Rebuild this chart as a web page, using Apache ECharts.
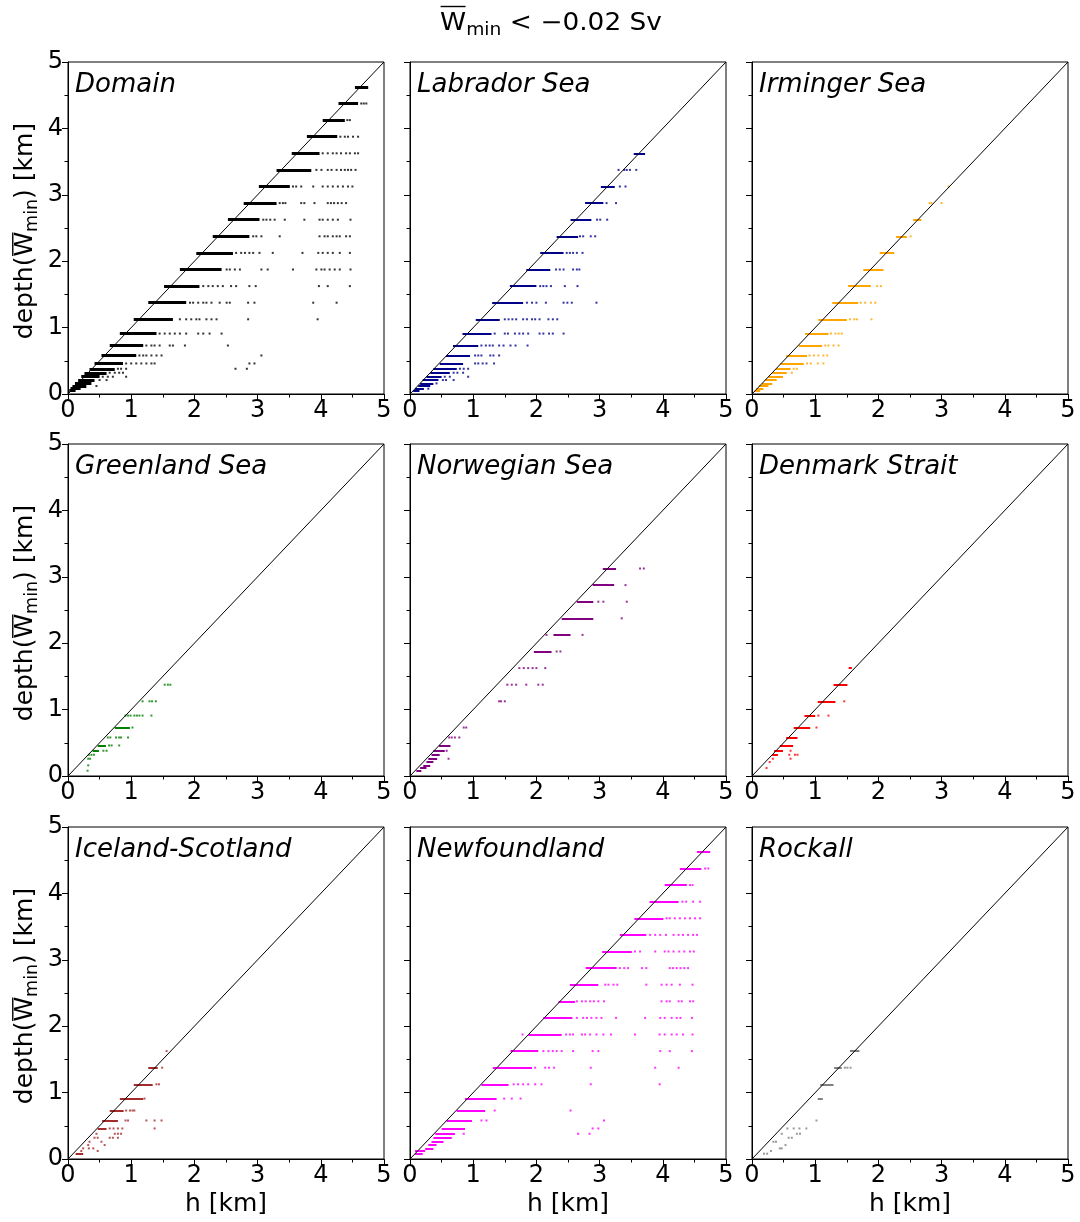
<!DOCTYPE html>
<html>
<head>
<meta charset="utf-8">
<script src="https://cdn.jsdelivr.net/npm/echarts@6/dist/echarts.min.js"></script>
<style>
html, body { margin: 0; padding: 0; background: #fff; }
#chart { width: 1080px; height: 1222px; }
</style>
</head>
<body>
<div id="chart"></div>
<script>
// axis ticks (km)
const tickValues = [0, 1, 2, 3, 4, 5]
const diagonal = [[0, 0], [5, 5]]

const panelNames = ['Domain', 'Labrador Sea', 'Irminger Sea', 'Greenland Sea', 'Norwegian Sea',
  'Denmark Strait', 'Iceland-Scotland', 'Newfoundland', 'Rockall']
const panelColors = ['#000000', '#00008b', '#ffa500', '#008000', '#800080',
  '#ff0000', '#a52a2a', '#ff00ff', '#808080']

// dense runs: [depth, h from, h to]
// isolated points: [depth, [h, h, ...]]
const domainRuns = [[4.625, 4.54, 4.75], [4.375, 4.28, 4.59], [4.125, 4.03, 4.38], [3.875, 3.78, 4.26],
  [3.625, 3.54, 3.98], [3.375, 3.30, 3.85], [3.125, 3.02, 3.51], [2.875, 2.78, 3.30], [2.625, 2.53, 3.03],
  [2.375, 2.29, 2.87], [2.125, 2.03, 2.61], [1.875, 1.77, 2.43], [1.625, 1.52, 2.08], [1.375, 1.27, 1.87],
  [1.125, 1.04, 1.66], [0.91, 0.82, 1.40], [0.73, 0.66, 1.19], [0.58, 0.53, 1.08], [0.46, 0.42, 0.87],
  [0.38, 0.34, 0.74], [0.32, 0.26, 0.61], [0.26, 0.21, 0.50], [0.21, 0.16, 0.42], [0.16, 0.11, 0.37],
  [0.12, 0.07, 0.29], [0.08, 0.04, 0.20], [0.05, 0.02, 0.12]]
const domainDots = [
  [4.375, [4.64, 4.68, 4.72]],
  [4.125, [4.42, 4.46]],
  [3.875, [4.31, 4.38, 4.43, 4.51, 4.59]],
  [3.625, [4.03, 4.11, 4.19, 4.25, 4.32, 4.40, 4.46, 4.54, 4.59]],
  [3.375, [3.93, 4.01, 4.11, 4.17, 4.25, 4.32, 4.38, 4.43, 4.48, 4.55]],
  [3.125, [3.56, 3.61, 3.69, 3.88, 4.03, 4.11, 4.19, 4.27, 4.35, 4.43, 4.50]],
  [2.875, [3.35, 3.40, 3.44, 3.69, 3.74, 3.90, 4.11, 4.16, 4.21, 4.27, 4.33, 4.40]],
  [2.625, [3.09, 3.14, 3.20, 3.27, 3.43, 3.74, 3.98, 4.03, 4.11, 4.19, 4.27, 4.47]],
  [2.375, [2.93, 2.98, 3.06, 3.35, 3.98, 4.06, 4.11, 4.19, 4.25, 4.30, 4.40, 4.46]],
  [2.125, [2.66, 2.74, 2.80, 2.87, 2.93, 3.03, 3.24, 3.71, 3.96, 4.03, 4.11, 4.19, 4.30, 4.46]],
  [1.875, [2.51, 2.56, 2.64, 2.72, 3.06, 3.16, 3.56, 3.93, 4.01, 4.06, 4.14, 4.22, 4.30, 4.47]],
  [1.625, [2.14, 2.22, 2.29, 2.37, 2.45, 2.58, 2.66, 2.87, 2.97, 3.97, 4.11, 4.46]],
  [1.375, [1.93, 1.98, 2.06, 2.14, 2.19, 2.27, 2.40, 2.51, 2.56, 2.85, 2.95, 3.88, 4.25]],
  [1.125, [1.77, 1.87, 1.95, 2.03, 2.08, 2.19, 2.27, 2.35, 2.85, 3.95]],
  [0.91, [1.45, 1.53, 1.61, 1.69, 1.77, 1.87, 2.06, 2.14, 2.24, 2.43]],
  [0.73, [1.24, 1.32, 1.37, 1.45, 1.61, 1.66, 1.85, 2.53]],
  [0.58, [1.13, 1.19, 1.24, 1.32, 1.40, 1.48, 3.06]],
  [0.46, [0.92, 1.00, 1.08, 1.16, 1.24, 1.32, 1.37, 2.87, 2.95]],
  [0.38, [0.79, 0.84, 0.92, 2.65, 2.83]],
  [0.32, [0.66, 0.74, 0.81, 0.87]],
  [0.26, [0.55, 0.63, 0.71, 0.92]],
  [0.21, [0.50, 0.61]],
  [0.12, [0.45]]]

const labradorRuns = [[3.625, 3.54, 3.72], [3.125, 3.02, 3.24], [2.875, 2.77, 3.06], [2.625, 2.54, 2.87],
  [2.375, 2.32, 2.66], [2.125, 2.06, 2.43], [1.875, 1.84, 2.22], [1.625, 1.58, 2.00], [1.375, 1.30, 1.79],
  [1.125, 1.04, 1.42], [0.91, 0.83, 1.29], [0.73, 0.68, 1.08], [0.58, 0.57, 0.95], [0.46, 0.47, 0.84],
  [0.38, 0.37, 0.74], [0.32, 0.32, 0.63], [0.26, 0.26, 0.50], [0.21, 0.20, 0.45], [0.16, 0.16, 0.37],
  [0.12, 0.13, 0.32], [0.08, 0.08, 0.22], [0.05, 0.05, 0.15]]
const labradorDots = [
  [3.375, [3.30, 3.39, 3.43, 3.48, 3.58]],
  [3.125, [3.32, 3.41]],
  [2.875, [3.11, 3.26]],
  [2.625, [2.96, 3.01, 3.12]],
  [2.375, [2.69, 2.74, 2.86, 2.93]],
  [2.125, [2.48, 2.53, 2.58, 2.64, 2.73]],
  [1.875, [2.31, 2.37, 2.43, 2.58, 2.64, 2.68]],
  [1.625, [2.06, 2.11, 2.16, 2.23, 2.45, 2.65]],
  [1.375, [1.85, 1.93, 2.00, 2.15, 2.43, 2.49, 2.56, 2.95]],
  [1.125, [1.50, 1.56, 1.62, 1.68, 1.79, 1.85, 1.93, 1.98, 2.05, 2.19, 2.26, 2.33]],
  [0.91, [1.34, 1.50, 1.55, 1.66, 1.73, 1.79, 1.87, 2.05, 2.11, 2.20, 2.26, 2.43]],
  [0.73, [1.13, 1.20, 1.26, 1.31, 1.41, 1.48, 1.59, 1.67, 1.86]],
  [0.58, [1.03, 1.08, 1.13, 1.27, 1.32, 1.41]],
  [0.46, [1.03, 1.08, 1.15, 1.21, 1.33]],
  [0.38, [0.79, 0.85, 0.92]],
  [0.32, [0.69, 0.75, 0.84]],
  [0.26, [0.55, 0.63, 0.92]],
  [0.21, [0.52, 0.57, 0.69]],
  [0.16, [0.42]],
  [0.08, [0.29]]]

const irmingerRuns = [[2.625, 2.55, 2.68], [2.375, 2.28, 2.45], [2.125, 2.02, 2.25], [1.875, 1.76, 2.08],
  [1.625, 1.52, 1.88], [1.375, 1.27, 1.68], [1.125, 1.05, 1.50], [0.91, 0.84, 1.21], [0.73, 0.74, 1.11],
  [0.58, 0.54, 0.87], [0.46, 0.45, 0.82], [0.38, 0.38, 0.61], [0.32, 0.32, 0.55], [0.26, 0.26, 0.49],
  [0.21, 0.21, 0.39], [0.16, 0.16, 0.32], [0.12, 0.11, 0.26], [0.08, 0.07, 0.18], [0.05, 0.04, 0.13]]
const irmingerDots = [
  [3.125, [3.11]],
  [2.875, [2.81, 2.84, 3.00]],
  [2.375, [2.51]],
  [1.625, [1.98, 2.04]],
  [1.375, [1.72, 1.79, 1.88, 1.95]],
  [1.125, [1.55, 1.62, 1.66, 1.89]],
  [0.91, [1.25, 1.32, 1.37, 1.42]],
  [0.73, [1.16, 1.21, 1.29, 1.37]],
  [0.58, [0.91, 0.98, 1.05, 1.13, 1.19]],
  [0.46, [0.87, 0.93, 1.04, 1.13]],
  [0.38, [0.66, 0.71]],
  [0.32, [0.63]]]

const greenlandRuns = [[0.73, 0.74, 0.98], [0.46, 0.47, 0.60], [0.38, 0.39, 0.49]]
const greenlandDots = [
  [1.375, [1.53, 1.58, 1.62]],
  [1.125, [1.18, 1.29, 1.33, 1.39]],
  [0.91, [0.91, 0.95, 0.99, 1.05, 1.09, 1.13, 1.18, 1.32]],
  [0.73, [1.02]],
  [0.58, [0.63, 0.67, 0.76, 0.81, 0.84, 0.95]],
  [0.46, [0.65, 0.69, 0.81]],
  [0.38, [0.56, 0.61]],
  [0.32, [0.33, 0.37, 0.41]],
  [0.26, [0.32, 0.35]],
  [0.16, [0.32]],
  [0.08, [0.31]]]

const norwegianRuns = [[3.125, 3.05, 3.26], [2.875, 2.89, 3.23], [2.625, 2.64, 2.90], [2.375, 2.40, 2.90],
  [2.125, 2.27, 2.54], [1.875, 1.96, 2.24], [0.46, 0.46, 0.64], [0.38, 0.37, 0.55], [0.32, 0.34, 0.47],
  [0.26, 0.29, 0.43], [0.21, 0.26, 0.37], [0.16, 0.21, 0.32], [0.12, 0.16, 0.26], [0.08, 0.10, 0.18]]
const norwegianDots = [
  [3.125, [3.64, 3.70]],
  [2.875, [3.41]],
  [2.625, [2.98, 3.06, 3.43]],
  [2.375, [3.35]],
  [2.125, [2.16, 2.73]],
  [1.875, [2.32, 2.38]],
  [1.625, [1.73, 1.80, 1.87, 1.94, 2.00, 2.14]],
  [1.375, [1.54, 1.61, 1.68, 1.84, 2.03, 2.10]],
  [1.125, [1.41, 1.44, 1.50]],
  [0.73, [0.85, 0.89]],
  [0.58, [0.62, 0.66, 0.71, 0.78]],
  [0.38, [0.58]],
  [0.26, [0.61]]]

const denmarkRuns = [[1.625, 1.53, 1.58], [1.375, 1.29, 1.51], [1.125, 1.04, 1.32], [0.91, 0.83, 1.00],
  [0.73, 0.66, 0.92], [0.58, 0.54, 0.72], [0.46, 0.44, 0.65], [0.38, 0.35, 0.49], [0.32, 0.32, 0.41]]
const denmarkDots = [
  [1.125, [1.46]],
  [0.91, [1.05, 1.21]],
  [0.73, [1.02]],
  [0.38, [0.61]],
  [0.32, [0.59, 0.68, 0.72]],
  [0.26, [0.33, 0.61]],
  [0.21, [0.28]],
  [0.12, [0.23]]]

const icelandRuns = [[1.375, 1.27, 1.42], [1.125, 1.04, 1.34], [0.91, 0.82, 1.19], [0.73, 0.66, 0.88],
  [0.58, 0.54, 0.79], [0.46, 0.47, 0.61], [0.08, 0.12, 0.24]]
const icelandDots = [
  [1.625, [1.56]],
  [1.375, [1.49]],
  [1.125, [1.40, 1.44]],
  [0.91, [1.21]],
  [0.73, [0.92, 0.98, 1.02, 1.05]],
  [0.58, [0.91, 0.95, 1.24, 1.37, 1.48]],
  [0.46, [0.66, 0.72, 0.79, 0.86, 1.37]],
  [0.38, [0.45, 0.74, 0.79, 0.84]],
  [0.32, [0.42, 0.47, 0.66, 0.71, 0.79]],
  [0.26, [0.34, 0.53]],
  [0.21, [0.32, 0.58]],
  [0.16, [0.24, 0.33, 0.40]],
  [0.12, [0.21, 0.47]]]

const newfoundlandRuns = [[4.625, 4.54, 4.75], [4.375, 4.27, 4.61], [4.125, 4.03, 4.38], [3.875, 3.79, 4.25],
  [3.625, 3.55, 4.01], [3.375, 3.32, 3.74], [3.125, 3.04, 3.51], [2.875, 2.78, 3.27], [2.625, 2.53, 2.98],
  [2.375, 2.35, 2.61], [2.125, 2.11, 2.57], [1.875, 1.87, 2.40], [1.625, 1.59, 2.03], [1.375, 1.31, 1.93],
  [1.125, 1.13, 1.56], [0.91, 0.87, 1.37], [0.73, 0.74, 1.19], [0.58, 0.58, 0.98], [0.46, 0.50, 0.87],
  [0.38, 0.40, 0.71], [0.32, 0.37, 0.66], [0.26, 0.34, 0.53], [0.21, 0.29, 0.42], [0.16, 0.24, 0.37],
  [0.12, 0.08, 0.24], [0.08, 0.08, 0.20]]
const newfoundlandDots = [
  [4.375, [4.67, 4.72]],
  [4.125, [4.43, 4.47]],
  [3.875, [4.31, 4.37, 4.48, 4.59]],
  [3.625, [4.06, 4.11, 4.19, 4.27, 4.35, 4.43, 4.51, 4.59]],
  [3.375, [3.80, 3.88, 3.96, 4.05, 4.17, 4.25, 4.32, 4.40, 4.48, 4.54]],
  [3.125, [3.56, 3.64, 3.88, 4.03, 4.09, 4.17, 4.26, 4.34, 4.43, 4.49]],
  [2.875, [3.32, 3.39, 3.45, 3.67, 3.74, 4.11, 4.16, 4.22, 4.28, 4.34, 4.40]],
  [2.625, [3.09, 3.14, 3.22, 3.28, 3.74, 3.98, 4.06, 4.14, 4.27, 4.47]],
  [2.375, [2.64, 2.72, 2.78, 2.85, 2.91, 2.98, 3.07, 3.98, 4.06, 4.11, 4.25, 4.30, 4.43, 4.48]],
  [2.125, [2.64, 2.74, 2.80, 2.87, 2.95, 3.03, 3.26, 3.72, 3.96, 4.03, 4.14, 4.22, 4.28, 4.46]],
  [1.875, [1.78, 2.47, 2.53, 2.58, 2.72, 2.77, 2.85, 2.95, 3.06, 3.18, 3.56, 3.95, 4.03, 4.14, 4.22, 4.32, 4.47]],
  [1.625, [2.11, 2.19, 2.26, 2.32, 2.40, 2.58, 2.89, 2.98, 3.96, 4.11, 4.46]],
  [1.375, [1.98, 2.14, 2.20, 2.28, 2.86, 3.88, 4.25]],
  [1.125, [1.64, 1.71, 1.79, 1.87, 1.98, 2.08, 2.86, 3.95]],
  [0.91, [1.49, 1.61, 1.75]],
  [0.73, [1.34, 2.54]],
  [0.58, [1.13, 1.21, 3.07]],
  [0.46, [2.89, 2.98]],
  [0.38, [0.85, 2.66, 2.84]]]

const rockallRuns = [[1.625, 1.55, 1.70], [1.375, 1.30, 1.42], [1.125, 1.08, 1.29], [0.91, 1.04, 1.12]]
const rockallDots = [
  [1.375, [1.47, 1.51, 1.56]],
  [0.58, [1.02]],
  [0.46, [0.56, 0.66, 0.75, 0.86]],
  [0.38, [0.47, 0.71, 0.76]],
  [0.32, [0.58, 0.63]],
  [0.26, [0.34, 0.38]],
  [0.21, [0.53]],
  [0.16, [0.44, 0.47]],
  [0.12, [0.30]],
  [0.08, [0.19, 0.24]]]

const allRuns = [domainRuns, labradorRuns, irmingerRuns, greenlandRuns, norwegianRuns,
  denmarkRuns, icelandRuns, newfoundlandRuns, rockallRuns]
const allDots = [domainDots, labradorDots, irmingerDots, greenlandDots, norwegianDots,
  denmarkDots, icelandDots, newfoundlandDots, rockallDots]

const FONT = 'DejaVu Sans'
const gridLeft = [68, 410, 752]
const gridTop = [62, 444, 827]
const gridW = 316
const gridH = 332

const flatDots = list => {
  let out = []
  list.forEach(([d, hs]) => hs.forEach(h => out.push([h, d])))
  return out
}

// text measuring for the hand-built math labels (overline + subscript)
const ctx = document.createElement('canvas').getContext('2d')
const textWidth = (t, size) => {
  ctx.font = size + 'px "' + FONT + '"'
  return ctx.measureText(t).width
}

// pieces: [text, size, baseline drop, overline gap or null]; baseline at y = 0
const mathLabel = (pieces) => {
  let x = 0
  let children = []
  pieces.forEach(([t, size, drop, bar]) => {
    let w = textWidth(t, size)
    children.push({
      type: 'text',
      x: x,
      y: drop - 0.3 * size,
      silent: true,
      style: { text: t, fontSize: size, fontFamily: FONT, fill: '#000', align: 'left', verticalAlign: 'middle', lineHeight: size }
    })
    if (bar !== null) {
      let yb = -0.729 * size - bar
      children.push({
        type: 'line',
        silent: true,
        shape: { x1: x + 0.5, y1: yb, x2: x + w - 0.5, y2: yb },
        style: { stroke: '#000', lineWidth: 1.4 }
      })
    }
    x += w
  })
  return { children, width: x }
}

const chart = echarts.init(document.getElementById('chart'))

let grids = [], xAxes = [], yAxes = [], series = [], titles = [], graphics = []

// figure title
const titleLabel = mathLabel([['W', 24, 0, 7], ['min', 17, 5, null], [' < ', 24, 0, null], ['\u22120.02 Sv', 24, 0, null]])
const titleScale = 1.1
graphics.push({
  type: 'group',
  x: 551 - titleLabel.width * titleScale / 2,
  y: 31,
  scaleX: titleScale,
  children: titleLabel.children
})

const axisCommon = () => ({
  type: 'value',
  min: tickValues[0],
  max: tickValues[tickValues.length - 1],
  interval: 1,
  splitLine: { show: false },
  axisLine: { show: true, lineStyle: { color: '#000', width: 1 } },
  axisTick: { show: true, length: 6, lineStyle: { color: '#000', width: 1 } },
  minorTick: { show: true, splitNumber: 2, length: 3.5, lineStyle: { color: '#000', width: 1 } },
  axisLabel: { fontSize: 24, fontFamily: FONT, color: '#000', margin: 5, showMinLabel: true, showMaxLabel: true }
})

panelNames.forEach((name, i) => {
  let row = Math.floor(i / 3)
  let col = i % 3
  grids.push({
    left: gridLeft[col], top: gridTop[row], width: gridW, height: gridH,
    show: true, borderColor: '#000', borderWidth: 1, backgroundColor: 'transparent'
  })
  let xa = axisCommon()
  xa.gridIndex = i
  if (row === 2) {
    xa.name = 'h [km]'
    xa.nameLocation = 'middle'
    xa.nameGap = 33
    xa.nameTextStyle = { fontSize: 25, fontFamily: FONT, color: '#000' }
  }
  xAxes.push(xa)
  let ya = axisCommon()
  ya.gridIndex = i
  if (col !== 0) ya.axisLabel.show = false
  yAxes.push(ya)

  if (col === 0) {
    // y axis title: depth(W̄_min) [km], rotated
    let yl = mathLabel([['depth(', 25, 0, null], ['W', 25, 0, 2], ['min', 17.5, 4.5, null], [') [km]', 25, 0, null]])
    graphics.push({
      type: 'group',
      x: 33,
      y: gridTop[row] + gridH / 2 + 3 + yl.width / 2,
      rotation: Math.PI / 2,
      children: yl.children
    })
  }

  titles.push({
    text: name,
    left: gridLeft[col] + 7,
    top: gridTop[row] + 10,
    padding: 0,
    textStyle: { fontSize: 26, fontStyle: 'italic', fontWeight: 'normal', fontFamily: FONT, color: '#000' }
  })

  series.push({
    type: 'lines',
    coordinateSystem: 'cartesian2d',
    xAxisIndex: i,
    yAxisIndex: i,
    silent: true,
    z: 2,
    lineStyle: { color: panelColors[i], width: i === 0 ? 3 : 2, opacity: 1 },
    data: allRuns[i].map(r => ({ coords: [[r[1], r[0]], [r[2], r[0]]] }))
  })
  series.push({
    type: 'scatter',
    xAxisIndex: i,
    yAxisIndex: i,
    silent: true,
    z: 2,
    symbol: 'rect',
    symbolSize: 2,
    itemStyle: { color: panelColors[i] },
    data: flatDots(allDots[i])
  })
  series.push({
    type: 'line',
    xAxisIndex: i,
    yAxisIndex: i,
    silent: true,
    z: 5,
    symbol: 'none',
    lineStyle: { color: '#000', width: 1 },
    data: diagonal
  })
})

chart.setOption({
  animation: false,
  backgroundColor: '#fff',
  title: titles,
  grid: grids,
  xAxis: xAxes,
  yAxis: yAxes,
  series: series,
  graphic: graphics
})
</script>
</body>
</html>
